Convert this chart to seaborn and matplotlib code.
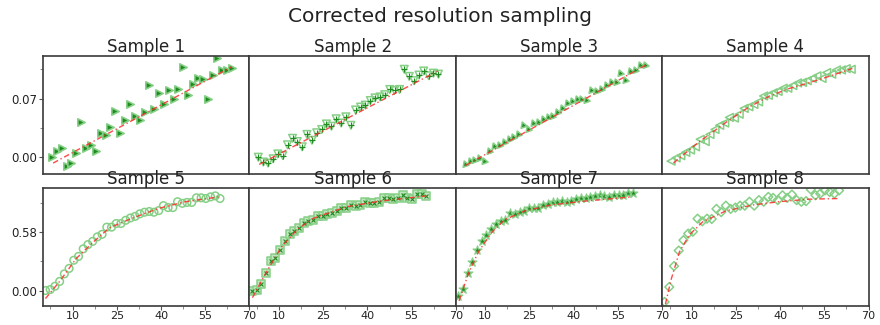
import numpy as np
import pandas as pd
import matplotlib
matplotlib.use("Agg")
import matplotlib.pyplot as plt
import seaborn as sns
from matplotlib.ticker import FixedLocator, FormatStrFormatter

# ---------------- data ----------------
X_TOP = [3.0, 4.7, 6.3, 8.0, 9.6, 11.3, 12.9, 14.6, 16.2, 17.9, 19.5, 21.2, 22.8,
         24.5, 26.1, 27.8, 29.4, 31.1, 32.7, 34.4, 36.0, 37.7, 39.3, 41.0, 42.6,
         44.3, 45.9, 47.6, 49.2, 50.9, 52.5, 54.2, 55.8, 57.5, 59.1, 60.8, 62.4, 64.1]
X_BOT = [0.8, 2.4, 4.0, 5.6, 7.2, 8.8, 10.4, 12.0, 13.6, 15.2, 16.8, 18.4, 20.0,
         21.6, 23.2, 24.8, 26.4, 28.0, 29.6, 31.2, 32.8, 34.4, 36.0, 37.6, 39.2,
         40.8, 42.4, 44.0, 45.6, 47.2, 48.8, 50.4, 52.0, 53.6, 55.2, 56.8, 58.4, 60.0]

Y_S1 = [0.000, 0.0078, 0.0105, -0.0109, -0.0066, 0.0047, 0.042, 0.0105, 0.0148, 0.0078,
        0.029, 0.027, 0.036, 0.055, 0.029, 0.045, 0.063, 0.049, 0.044, 0.054,
        0.086, 0.057, 0.077, 0.063, 0.080, 0.070, 0.082, 0.108, 0.074, 0.087,
        0.095, 0.093, 0.070, 0.098, 0.119, 0.104, 0.104, 0.106]
Y_S2 = [0.000, -0.0058, -0.0070, -0.0019, 0.0039, 0.0019, 0.0148, 0.0226, 0.0187, 0.0124,
        0.0272, 0.0202, 0.0292, 0.0331, 0.0397, 0.0370, 0.0459, 0.0408, 0.0482, 0.0381,
        0.0564, 0.0599, 0.0622, 0.0677, 0.0708, 0.0720, 0.0747, 0.0809, 0.0797, 0.0809,
        0.105, 0.0965, 0.0914, 0.0981, 0.103, 0.0973, 0.1004, 0.0992]
Y_S3 = [-0.0086, -0.0047, -0.0031, -0.0008, -0.0047, 0.0078, 0.0136, 0.0148, 0.0187, 0.0214,
        0.0241, 0.0272, 0.0381, 0.0342, 0.0408, 0.0420, 0.0459, 0.0486, 0.0498, 0.0537,
        0.0591, 0.0653, 0.0669, 0.0700, 0.0700, 0.0681, 0.0798, 0.0786, 0.0809, 0.0863,
        0.0895, 0.0902, 0.1011, 0.0926, 0.1031, 0.1043, 0.1097, 0.1097]
Y_S4 = [-0.0047, -0.0008, 0.0019, 0.0058, 0.0086, 0.0124, 0.0214, 0.0187, 0.0272, 0.0331,
        0.0381, 0.0408, 0.0475, 0.0467, 0.0513, 0.0583, 0.0603, 0.0630, 0.0661, 0.0731,
        0.0739, 0.0770, 0.0786, 0.0824, 0.0824, 0.0856, 0.0887, 0.0894, 0.0914, 0.0941,
        0.0972, 0.0941, 0.1011, 0.0992, 0.1042, 0.1042, 0.1058, 0.1050]
Y_S5 = [0.000, 0.0097, 0.042, 0.090, 0.165, 0.219, 0.300, 0.338, 0.413, 0.455,
        0.487, 0.532, 0.557, 0.628, 0.628, 0.664, 0.664, 0.696, 0.719, 0.735,
        0.760, 0.776, 0.783, 0.776, 0.792, 0.841, 0.822, 0.822, 0.880, 0.864,
        0.873, 0.873, 0.919, 0.919, 0.912, 0.928, 0.938, 0.912]
Y_S6 = [-0.006, 0.003, 0.068, 0.177, 0.293, 0.325, 0.403, 0.487, 0.557, 0.590,
        0.622, 0.670, 0.693, 0.702, 0.735, 0.735, 0.757, 0.767, 0.790, 0.815,
        0.815, 0.848, 0.841, 0.848, 0.873, 0.864, 0.864, 0.873, 0.912, 0.918,
        0.906, 0.918, 0.944, 0.918, 0.906, 0.960, 0.960, 0.938]
Y_S7 = [-0.055, 0.019, 0.171, 0.284, 0.403, 0.493, 0.548, 0.606, 0.661, 0.693,
        0.702, 0.767, 0.757, 0.777, 0.790, 0.822, 0.822, 0.815, 0.848, 0.854,
        0.873, 0.880, 0.886, 0.880, 0.886, 0.906, 0.912, 0.912, 0.928, 0.938,
        0.951, 0.938, 0.928, 0.951, 0.944, 0.944, 0.970, 0.970]
Y_S8 = [-0.113, 0.035, 0.242, 0.396, 0.499, 0.564, 0.583, 0.712, 0.686, 0.712,
        0.709, 0.809, 0.777, 0.841, 0.809, 0.822, 0.841, 0.841, 0.880, 0.841,
        0.896, 0.880, 0.928, 0.918, 0.896, 0.944, 0.918, 0.951, 0.896, 0.880,
        0.886, 1.002, 0.944, 0.960, 0.992, 0.976, 0.960, 0.992]

# fitted curves
FIT_X_S1 = [3.4, 64.0]
FIT_Y_S1 = [-0.007, 0.108]
FIT_X_S2 = [3.3, 63.9]
FIT_Y_S2 = [-0.0086, 0.103]
FIT_X_S3 = [3.4, 64.9]
FIT_Y_S3 = [-0.0097, 0.111]
FIT_X_S4 = [3.8, 12.0, 21.8, 29.0, 36.4, 43.0, 49.9, 57.0, 64.5]
FIT_Y_S4 = [-0.007, 0.017, 0.042, 0.059, 0.073, 0.082, 0.089, 0.097, 0.106]
FIT_X_S5 = [0.8, 5.6, 11.2, 16.9, 22.5, 30.3, 39.3, 48.3, 59.6]
FIT_Y_S5 = [-0.08, 0.09, 0.316, 0.477, 0.622, 0.718, 0.815, 0.88, 0.928]
FIT_X_S6 = [1.0, 5.5, 10.6, 16.2, 21.8, 33.0, 44.3, 60.0]
FIT_Y_S6 = [-0.071, 0.171, 0.422, 0.606, 0.718, 0.831, 0.886, 0.938]
FIT_X_S7 = [1.1, 4.3, 7.6, 12.1, 16.6, 23.4, 32.4, 43.6, 59.9]
FIT_Y_S7 = [-0.103, 0.171, 0.380, 0.574, 0.702, 0.790, 0.848, 0.886, 0.928]
FIT_X_S8 = [1.1, 3.0, 5.8, 9.2, 13.7, 21.6, 30.6, 39.6, 49.7, 60.3]
FIT_Y_S8 = [-0.135, 0.106, 0.380, 0.551, 0.680, 0.789, 0.847, 0.880, 0.905, 0.912]

TITLES = ["Sample 1", "Sample 2", "Sample 3", "Sample 4",
          "Sample 5", "Sample 6", "Sample 7", "Sample 8"]
SUPTITLE = "Corrected resolution sampling"
X_TICKS = [10, 25, 40, 55, 70]
Y_TICKS_TOP = [0.00, 0.07]
Y_TICKS_BOT = [0.00, 0.58]

YS = [Y_S1, Y_S2, Y_S3, Y_S4, Y_S5, Y_S6, Y_S7, Y_S8]
FX = [FIT_X_S1, FIT_X_S2, FIT_X_S3, FIT_X_S4, FIT_X_S5, FIT_X_S6, FIT_X_S7, FIT_X_S8]
FY = [FIT_Y_S1, FIT_Y_S2, FIT_Y_S3, FIT_Y_S4, FIT_Y_S5, FIT_Y_S6, FIT_Y_S7, FIT_Y_S8]

# ---------------- style ----------------
LIGHT = "#86cf86"
DARK = "#1f8a1f"
RED = "#ff2a2a"

# (marker, facecolor, edgecolor, size, lw, overlay marker, overlay size)
STYLES = [
    (">", DARK, LIGHT, 28, 1.2, None, 0),
    ("v", "none", LIGHT, 30, 1.1, "+", 14),
    ((3, 0, 20), DARK, LIGHT, 28, 1.1, None, 0),
    ("<", "none", LIGHT, 32, 1.1, None, 0),
    ("o", "none", LIGHT, 30, 1.1, None, 0),
    ("s", "#bfe6bf", LIGHT, 26, 1.1, "x", 8),
    ("*", DARK, LIGHT, 44, 0.9, None, 0),
    ("D", "none", LIGHT, 20, 1.1, None, 0),
]

sns.set_theme(style="ticks")
plt.rcParams["font.family"] = ["DejaVu Sans"]

fig, axes = plt.subplots(2, 4, figsize=(8.8, 3.25), dpi=100, sharex=True, sharey="row")
fig.subplots_adjust(left=0.049, right=0.987, top=0.828, bottom=0.058,
                    wspace=0.0, hspace=0.12)

for i, ax in enumerate(axes.flat):
    row, col = divmod(i, 4)
    xs = X_TOP if row == 0 else X_BOT
    df = pd.DataFrame({"x": xs, "y": YS[i]})
    fit = pd.DataFrame({"x": FX[i], "y": FY[i]})
    mk, fc, ec, s, lw, ov, ovs = STYLES[i]
    sns.scatterplot(data=df, x="x", y="y", ax=ax, marker=mk, s=s,
                    facecolor=fc, edgecolor=ec, linewidth=lw, zorder=2,
                    legend=False, clip_on=True)
    if ov is not None:
        sns.scatterplot(data=df, x="x", y="y", ax=ax, marker=ov, s=ovs,
                        color=DARK, linewidth=0.8, zorder=2.5, legend=False)
    sns.lineplot(data=fit, x="x", y="y", ax=ax, color=RED, linewidth=1.0,
                 linestyle=(0, (4, 2, 1, 2)), alpha=0.85, zorder=3,
                 estimator=None, sort=False)

    ax.set_title(TITLES[i], fontsize=12, pad=2.5, color="#222222")
    ax.set_xlabel("")
    ax.set_ylabel("")
    ax.set_xlim(0, 70)
    if row == 0:
        ax.set_ylim(-0.020, 0.121)
        ax.yaxis.set_major_locator(FixedLocator(Y_TICKS_TOP))
        ax.yaxis.set_minor_locator(FixedLocator([0.035, 0.105]))
    else:
        ax.set_ylim(-0.155, 1.015)
        ax.yaxis.set_major_locator(FixedLocator(Y_TICKS_BOT))
        ax.yaxis.set_minor_locator(FixedLocator([0.29, 0.87]))
    ax.yaxis.set_major_formatter(FormatStrFormatter("%.2f"))
    ax.xaxis.set_major_locator(FixedLocator(X_TICKS))
    ax.xaxis.set_minor_locator(FixedLocator([2.5, 17.5, 32.5, 47.5, 62.5]))

    for sp in ax.spines.values():
        sp.set_visible(True)
        sp.set_color("#3a3a3a")
        sp.set_linewidth(1.2)

    ax.tick_params(axis="both", which="major", direction="out", length=3,
                   width=0.8, color="#555555", labelsize=8.5, pad=1.5,
                   labelcolor="#222222")
    ax.tick_params(axis="both", which="minor", direction="out", length=2,
                   width=0.6, color="#777777")
    ax.tick_params(top=False, right=False, which="both")
    if row == 0:
        ax.tick_params(axis="x", which="both", bottom=False, labelbottom=False)
    else:
        ax.tick_params(axis="x", which="both", bottom=True, labelbottom=True)
        ax.tick_params(axis="x", which="major", labelsize=8, pad=0.5)
    if col > 0:
        ax.tick_params(axis="y", which="both", left=False, labelleft=False)
    else:
        ax.tick_params(axis="y", which="both", left=True, labelleft=True)

fig.suptitle(SUPTITLE, fontsize=14.5, y=1 - 17 / 325, va="center", color="#222222")
fig.savefig("out.png", dpi=100)
